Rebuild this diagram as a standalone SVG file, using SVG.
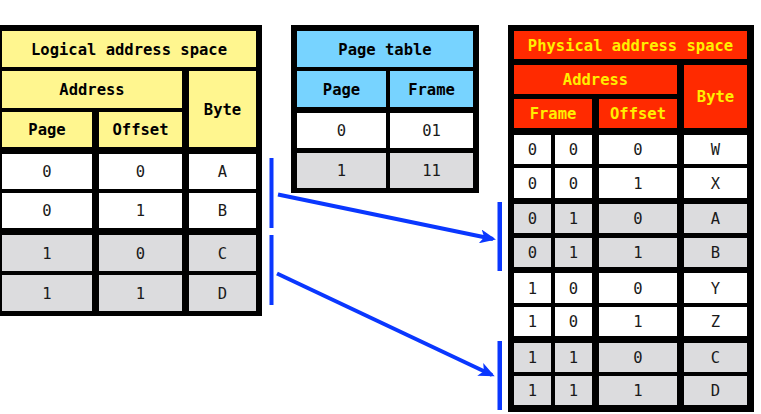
<svg xmlns="http://www.w3.org/2000/svg" width="761" height="414" viewBox="0 0 761 414">
<defs>
<style>
.frame{fill:#000}
.y{fill:#fff68f}
.c{fill:#77d3ff}
.r{fill:#ff2a00}
.w{fill:#fff}
.g{fill:#dcdcde}
text{font-family:"DejaVu Sans Mono","Liberation Mono",monospace;text-anchor:middle}
.h{font-size:15.5px;font-weight:bold;fill:#000}
.hy{font-size:15.5px;font-weight:bold;fill:#ffee00}
.d{font-size:15.5px;fill:#1a1a1a}
.bar{fill:#0a37ff}
.arrow{stroke:#0a37ff;stroke-width:4;fill:none;marker-end:url(#ah)}
</style>
<marker id="ah" viewBox="0 0 16 14" refX="13" refY="7" markerWidth="16" markerHeight="14" markerUnits="userSpaceOnUse" orient="auto">
<path d="M0,0 L16,7 L0,14 L4,7 z" fill="#0a37ff"/>
</marker>
</defs>
<rect width="761" height="414" fill="#fff"/>

<g id="logical">
<rect class="frame" x="0" y="25" width="262" height="291"/>
<rect class="y" x="2" y="31" width="254" height="36"/>
<text class="h" x="129" y="54.5">Logical address space</text>
<rect class="y" x="2" y="71" width="180" height="37"/>
<text class="h" x="92" y="94.5">Address</text>
<rect class="y" x="189" y="71" width="67" height="76"/>
<text class="h" x="222.5" y="114.5">Byte</text>
<rect class="y" x="2" y="112" width="90" height="35"/>
<text class="h" x="47" y="135">Page</text>
<rect class="y" x="99" y="112" width="83" height="35"/>
<text class="h" x="140.5" y="135">Offset</text>
<rect class="w" x="2" y="154" width="90" height="35"/><rect class="w" x="99" y="154" width="83" height="35"/><rect class="w" x="189" y="154" width="67" height="35"/>
<text class="d" x="47" y="177">0</text><text class="d" x="140.5" y="177">0</text><text class="d" x="222.5" y="177">A</text>
<rect class="w" x="2" y="193" width="90" height="35"/><rect class="w" x="99" y="193" width="83" height="35"/><rect class="w" x="189" y="193" width="67" height="35"/>
<text class="d" x="47" y="216">0</text><text class="d" x="140.5" y="216">1</text><text class="d" x="222.5" y="216">B</text>
<rect class="g" x="2" y="235" width="90" height="36"/><rect class="g" x="99" y="235" width="83" height="36"/><rect class="g" x="189" y="235" width="67" height="36"/>
<text class="d" x="47" y="258.5">1</text><text class="d" x="140.5" y="258.5">0</text><text class="d" x="222.5" y="258.5">C</text>
<rect class="g" x="2" y="275" width="90" height="36"/><rect class="g" x="99" y="275" width="83" height="36"/><rect class="g" x="189" y="275" width="67" height="36"/>
<text class="d" x="47" y="298.5">1</text><text class="d" x="140.5" y="298.5">1</text><text class="d" x="222.5" y="298.5">D</text>
</g>

<g id="pagetable">
<rect class="frame" x="291" y="25" width="188" height="168"/>
<rect class="c" x="297" y="31" width="176" height="36"/>
<text class="h" x="385" y="54.5">Page table</text>
<rect class="c" x="297" y="71" width="89" height="36"/>
<text class="h" x="341.5" y="94.5">Page</text>
<rect class="c" x="390" y="71" width="83" height="36"/>
<text class="h" x="431.5" y="94.5">Frame</text>
<rect class="w" x="297" y="113" width="89" height="35"/><rect class="w" x="390" y="113" width="83" height="35"/>
<text class="d" x="341.5" y="136">0</text><text class="d" x="431.5" y="136">01</text>
<rect class="g" x="297" y="153" width="89" height="35"/><rect class="g" x="390" y="153" width="83" height="35"/>
<text class="d" x="341.5" y="176">1</text><text class="d" x="431.5" y="176">11</text>
</g>

<g id="physical">
<rect class="frame" x="508" y="25" width="246" height="387"/>
<rect class="r" x="514" y="31" width="233" height="28"/>
<text class="hy" x="630.5" y="50.5">Physical address space</text>
<rect class="r" x="514" y="65" width="163" height="29"/>
<text class="hy" x="595.5" y="85">Address</text>
<rect class="r" x="684" y="65" width="63" height="63"/>
<text class="hy" x="715.5" y="102">Byte</text>
<rect class="r" x="514" y="99" width="78" height="29"/>
<text class="hy" x="553" y="119">Frame</text>
<rect class="r" x="599" y="99" width="78" height="29"/>
<text class="hy" x="638" y="119">Offset</text>

<rect class="w" x="514" y="135" width="37" height="29"/><rect class="w" x="555" y="135" width="37" height="29"/><rect class="w" x="599" y="135" width="78" height="29"/><rect class="w" x="684" y="135" width="63" height="29"/>
<text class="d" x="532.5" y="155">0</text><text class="d" x="573.5" y="155">0</text><text class="d" x="638" y="155">0</text><text class="d" x="715.5" y="155">W</text>
<rect class="w" x="514" y="168" width="37" height="30"/><rect class="w" x="555" y="168" width="37" height="30"/><rect class="w" x="599" y="168" width="78" height="30"/><rect class="w" x="684" y="168" width="63" height="30"/>
<text class="d" x="532.5" y="188.5">0</text><text class="d" x="573.5" y="188.5">0</text><text class="d" x="638" y="188.5">1</text><text class="d" x="715.5" y="188.5">X</text>
<rect class="g" x="514" y="204" width="37" height="29"/><rect class="g" x="555" y="204" width="37" height="29"/><rect class="g" x="599" y="204" width="78" height="29"/><rect class="g" x="684" y="204" width="63" height="29"/>
<text class="d" x="532.5" y="224">0</text><text class="d" x="573.5" y="224">1</text><text class="d" x="638" y="224">0</text><text class="d" x="715.5" y="224">A</text>
<rect class="g" x="514" y="238" width="37" height="29"/><rect class="g" x="555" y="238" width="37" height="29"/><rect class="g" x="599" y="238" width="78" height="29"/><rect class="g" x="684" y="238" width="63" height="29"/>
<text class="d" x="532.5" y="258">0</text><text class="d" x="573.5" y="258">1</text><text class="d" x="638" y="258">1</text><text class="d" x="715.5" y="258">B</text>
<rect class="w" x="514" y="273" width="37" height="30"/><rect class="w" x="555" y="273" width="37" height="30"/><rect class="w" x="599" y="273" width="78" height="30"/><rect class="w" x="684" y="273" width="63" height="30"/>
<text class="d" x="532.5" y="293.5">1</text><text class="d" x="573.5" y="293.5">0</text><text class="d" x="638" y="293.5">0</text><text class="d" x="715.5" y="293.5">Y</text>
<rect class="w" x="514" y="307" width="37" height="29"/><rect class="w" x="555" y="307" width="37" height="29"/><rect class="w" x="599" y="307" width="78" height="29"/><rect class="w" x="684" y="307" width="63" height="29"/>
<text class="d" x="532.5" y="327">1</text><text class="d" x="573.5" y="327">0</text><text class="d" x="638" y="327">1</text><text class="d" x="715.5" y="327">Z</text>
<rect class="g" x="514" y="343" width="37" height="29"/><rect class="g" x="555" y="343" width="37" height="29"/><rect class="g" x="599" y="343" width="78" height="29"/><rect class="g" x="684" y="343" width="63" height="29"/>
<text class="d" x="532.5" y="363">1</text><text class="d" x="573.5" y="363">1</text><text class="d" x="638" y="363">0</text><text class="d" x="715.5" y="363">C</text>
<rect class="g" x="514" y="376" width="37" height="29"/><rect class="g" x="555" y="376" width="37" height="29"/><rect class="g" x="599" y="376" width="78" height="29"/><rect class="g" x="684" y="376" width="63" height="29"/>
<text class="d" x="532.5" y="396">1</text><text class="d" x="573.5" y="396">1</text><text class="d" x="638" y="396">1</text><text class="d" x="715.5" y="396">D</text>
</g>

<g id="connectors">
<rect class="bar" x="269.5" y="158" width="4" height="70"/>
<rect class="bar" x="269.5" y="235" width="4" height="70"/>
<rect class="bar" x="497.5" y="202" width="4.5" height="69"/>
<rect class="bar" x="497.5" y="341" width="4.5" height="69"/>
<line class="arrow" x1="278" y1="194.5" x2="493" y2="239"/>
<line class="arrow" x1="277" y1="273.5" x2="492" y2="375"/>
</g>
</svg>
